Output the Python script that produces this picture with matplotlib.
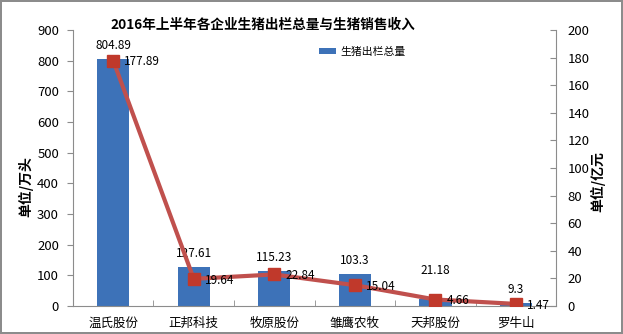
import matplotlib
matplotlib.use('Agg')
from matplotlib import pyplot as plt
import numpy as np

plt.rcParams['font.family'] = ['Noto Sans CJK SC', 'DejaVu Sans']

companies = ['温氏股份', '正邦科技', '牧原股份', '雏鹰农牧', '天邦股份', '罗牛山']
pigs = [804.89, 127.61, 115.23, 103.3, 21.18, 9.3]          # 万头
revenue = [177.89, 19.64, 22.84, 15.04, 4.66, 1.47]         # 亿元
bar_labels = ['804.89', '127.61', '115.23', '103.3', '21.18', '9.3']
line_labels = ['177.89', '19.64', '22.84', '15.04', '4.66', '1.47']

fig = plt.figure(figsize=(6.23, 3.34), dpi=100)
fig.patch.set_edgecolor('#8c8c8c')
fig.patch.set_linewidth(1.5)
ax = fig.add_axes([0.117, 0.084, 0.776, 0.826])
x = np.arange(len(companies))

ax.bar(x, pigs, width=0.4, color='#3d72b8', label='生猪出栏总量', zorder=2)
ax.set_xlim(-0.5, len(companies) - 0.5)
ax.set_ylim(0, 900)
ax.set_yticks(range(0, 901, 100))
ax.set_xticks(x)
ax.set_xticklabels(companies, fontsize=9)
ax.set_xticks(np.arange(0.5, len(companies) - 0.5), minor=True)
ax.tick_params(axis='x', which='major', length=0, pad=8)
ax.tick_params(axis='x', which='minor', direction='in', length=4, color='#8c8c8c')
ax.tick_params(axis='y', direction='out', length=4, color='#8c8c8c', labelsize=9.5, pad=6)
for s in ['top', 'right']:
    ax.spines[s].set_visible(False)
for s in ['left', 'bottom']:
    ax.spines[s].set_color('#8c8c8c')

# bar value labels (21.18 sits higher to clear the marker)
offsets = [5, 5, 5, 5, 16, 5]
for xi, v, t, o in zip(x, pigs, bar_labels, offsets):
    ax.annotate(t, (xi, v), xytext=(0, o), textcoords='offset points',
                ha='center', va='bottom', fontsize=8.5)

ax2 = ax.twinx()
ax2.plot(x, revenue, color='#c0504d', linewidth=3, marker='s', markersize=9,
         markerfacecolor='#c0392b', markeredgecolor='#c0392b', zorder=3)
ax2.set_ylim(0, 200)
ax2.set_yticks(range(0, 201, 20))
ax2.tick_params(axis='y', direction='in', length=4, color='#8c8c8c', labelsize=9.5, pad=8)
for s in ['top', 'left', 'bottom']:
    ax2.spines[s].set_visible(False)
ax2.spines['right'].set_color('#8c8c8c')

for xi, v, t in zip(x, revenue, line_labels):
    ax2.annotate(t, (xi, v), xytext=(8, -1), textcoords='offset points',
                 ha='left', va='center', fontsize=8.5)

fig.text(0.042, 0.44, '单位/万头', rotation=90, ha='center', va='center',
         fontsize=10, fontweight='bold')
fig.text(0.960, 0.455, '单位/亿元', rotation=90, ha='center', va='center',
         fontsize=10, fontweight='bold')
fig.text(0.422, 0.925, '2016年上半年各企业生猪出栏总量与生猪销售收入',
         ha='center', va='center', fontsize=9.8, fontweight='bold')
ax.legend(loc='upper left', bbox_to_anchor=(0.5, 0.955), frameon=False,
          fontsize=7.8, handlelength=1.6, handleheight=0.5, handletextpad=0.4,
          borderaxespad=0)

fig.savefig('out.png', dpi=100)
